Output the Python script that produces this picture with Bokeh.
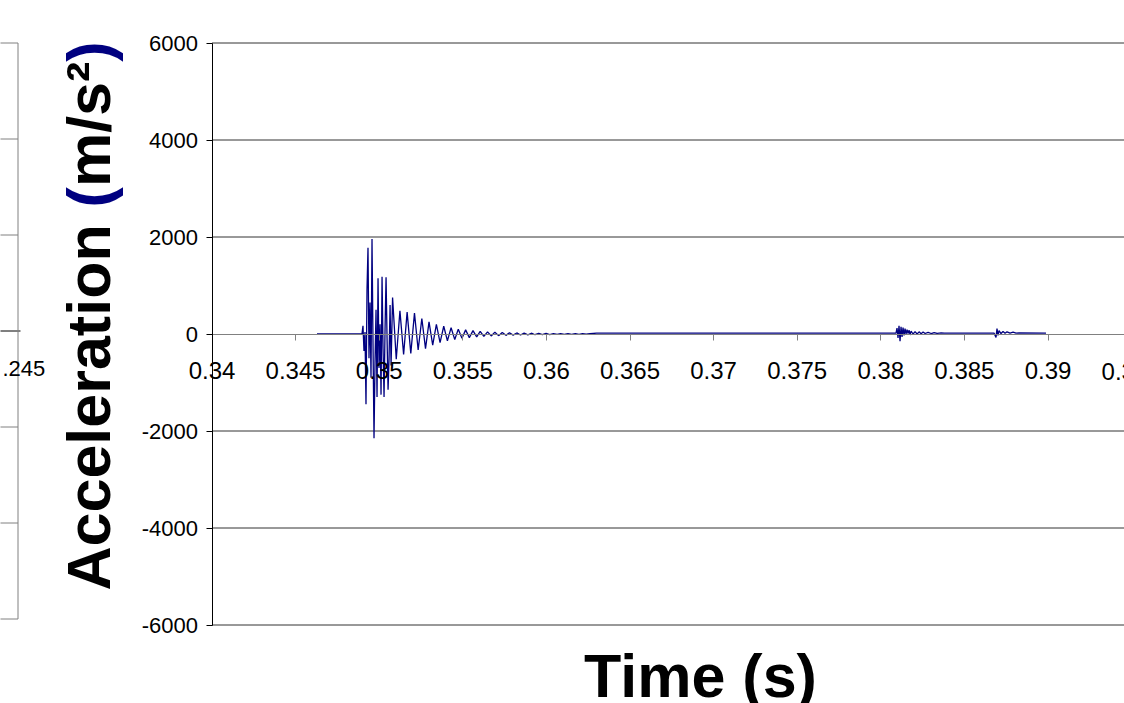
from bokeh.plotting import figure
from bokeh.models import Range1d, FixedTicker, Label
from bokeh.embed import file_html
from bokeh.resources import INLINE

# ---------------- data ----------------
time_s = [
    0.34628, 0.34897, 0.34903, 0.34909, 0.34915, 0.34921, 0.34927, 0.34933, 0.34939, 0.34945,
    0.34951, 0.34957, 0.34963, 0.34969, 0.34975, 0.34981, 0.34987, 0.34993, 0.34999, 0.35005,
    0.35011, 0.35017, 0.35023, 0.35029, 0.35035, 0.35041, 0.35047, 0.35053, 0.35059, 0.35065,
    0.35071, 0.35080, 0.35102, 0.35124, 0.35146, 0.35167, 0.35189, 0.35211, 0.35233, 0.35255,
    0.35277, 0.35298, 0.35320, 0.35342, 0.35364, 0.35386, 0.35408, 0.35430, 0.35452, 0.35473,
    0.35495, 0.35517, 0.35539, 0.35561, 0.35583, 0.35604, 0.35626, 0.35648, 0.35670, 0.35692,
    0.35714, 0.35736, 0.35758, 0.35779, 0.35801, 0.35823, 0.35845, 0.35867, 0.35889, 0.35910,
    0.35932, 0.35954, 0.35976, 0.35998, 0.36020, 0.36042, 0.36064, 0.36085, 0.36107, 0.36129,
    0.36151, 0.36173, 0.36195, 0.36216, 0.36238, 0.36260, 0.36300,
    0.38091, 0.38097, 0.38103, 0.38109, 0.38115, 0.38121, 0.38127, 0.38133, 0.38139, 0.38145,
    0.38151, 0.38157, 0.38163, 0.38169, 0.38175, 0.38181, 0.38193, 0.38205, 0.38217, 0.38229,
    0.38241, 0.38253, 0.38265, 0.38283, 0.38301, 0.38319, 0.38337, 0.38361, 0.38380,
    0.38677, 0.38689, 0.38695, 0.38701, 0.38707, 0.38719, 0.38731, 0.38743, 0.38755, 0.38773,
    0.38791, 0.38809, 0.38827, 0.38988,
]
accel = [
    0, 0, 170, -350, 40, -1450, 900, 1780, -500, 650,
    -900, 1960, -200, -2150, -600, 500, -1300, 1150, -700, 200,
    -1250, 1180, -300, -1300, 100, 1170, -100, -1150, -500, 600,
    -650, 750, -520, 480, -420, 450, -400, 430, -330, 320,
    -300, 250, -230, 200, -180, 160, -140, 130, -115, 100,
    -90, 85, -75, 70, -60, 55, -50, 45, -40, 38,
    -34, 32, -28, 26, -24, 22, -20, 19, -17, 16,
    -15, 14, -13, 12, -11, 10, -9, 9, -8, 8,
    -7, 7, -6, 6, -5, 5, 20,
    20, 120, -80, 170, -150, 150, -60, 130, -30, 110,
    0, 90, 10, 80, -20, 60, 0, 50, 0, 45,
    5, 40, 10, 35, 10, 30, 15, 25, 20,
    20, -70, 110, -30, 70, 10, 50, 15, 45, 20,
    40, 20, 25, 20,
]

x_ticks = [0.34, 0.345, 0.35, 0.355, 0.36, 0.365, 0.37, 0.375, 0.38, 0.385, 0.39]
x_tick_labels = ["0.34", "0.345", "0.35", "0.355", "0.36", "0.365", "0.37", "0.375", "0.38", "0.385", "0.39"]
x_next_tick = 0.395
x_next_label = "0.395"
y_ticks = [-6000, -4000, -2000, 0, 2000, 4000, 6000]
y_tick_labels = ["-6000", "-4000", "-2000", "0", "2000", "4000", "6000"]
x_title = "Time (s)"
y_title_parts = ["Acceleration ", "(", "m/s\u00b2", ")"]
remnant_label = ".245"

# ---------------- geometry (page pixels -> data) ----------------
W, H = 1124, 703
FONT = "Liberation Sans"
NAVY = "#000080"
GRID = "#333333"
X0 = x_ticks[0]
AXIS_PX_X = 211.5            # page x of the value axis
X_PX_PER_UNIT = 16720.0
ZERO_PX_Y = 333.5            # page y of acceleration 0
Y_PX_PER_UNIT = 97.0 / 2000.0


def dx(page_x):
    return X0 + (page_x - AXIS_PX_X) / X_PX_PER_UNIT


def dy(page_y):
    return (ZERO_PX_Y - page_y) / Y_PX_PER_UNIT


p = figure(width=W, height=H, x_range=Range1d(dx(0), dx(W)), y_range=Range1d(dy(H), dy(0)),
           toolbar_location=None, output_backend="svg",
           min_border_left=0, min_border_right=0, min_border_top=0, min_border_bottom=0)
p.outline_line_color = None
p.background_fill_color = "white"
p.border_fill_color = "white"
p.xgrid.visible = False
p.ygrid.visible = False

# horizontal gridlines of the value axis (drawn from the tick values)
grid_vals = [v for v in y_ticks if v != 0]
p.segment(x0=[X0] * len(grid_vals), x1=[x_next_tick] * len(grid_vals),
          y0=grid_vals, y1=grid_vals, line_color=GRID, line_width=1)

# data series
p.line(time_s, accel, line_color=NAVY, line_width=1.3)

# time axis crossing at 0
xa = p.xaxis[0]
xa.fixed_location = 0
xa.bounds = (X0, x_next_tick)
xa.ticker = FixedTicker(ticks=x_ticks)
xa.major_label_overrides = dict(zip(x_ticks, x_tick_labels))
xa.axis_line_color = "#808080"
xa.major_tick_line_color = "#808080"
xa.major_tick_out = 6
xa.major_tick_in = 0
xa.minor_tick_out = 0
xa.minor_tick_in = 0
xa.major_label_text_font = FONT
xa.major_label_text_font_size = "24px"
xa.major_label_text_color = "black"
xa.major_label_standoff = 22

# value axis
ya = p.yaxis[0]
ya.fixed_location = X0
ya.bounds = (y_ticks[0], y_ticks[-1])
ya.ticker = FixedTicker(ticks=y_ticks)
ya.major_label_overrides = dict(zip(y_ticks, y_tick_labels))
ya.axis_line_color = "black"
ya.major_tick_line_color = "black"
ya.major_tick_out = 6
ya.major_tick_in = 0
ya.minor_tick_out = 0
ya.minor_tick_in = 0
ya.major_label_text_font = FONT
ya.major_label_text_font_size = "22px"
ya.major_label_text_color = "black"
ya.major_label_standoff = 8

# next tick label, cut off by the right edge like the reference
p.add_layout(Label(x=x_next_tick, y=dy(371), text=x_next_label, text_font=FONT,
                   text_font_size="24px", text_align="center", text_baseline="middle",
                   text_color="black"))

# x title
p.add_layout(Label(x=dx(700), y=dy(675), text=x_title, text_font=FONT,
                   text_font_size="61px", text_font_style="bold", text_align="center",
                   text_baseline="alphabetic", text_color="black"))

# y title, pieces placed along the rotated baseline (Liberation Sans Bold advances)
FS = 61
advances = [6280, 333, 2056, 333]
colors = ["black", NAVY, "black", NAVY]
pos = 590.0
for txt, adv, col in zip(y_title_parts, advances, colors):
    p.add_layout(Label(x=dx(88), y=dy(pos), text=txt, angle=90, angle_units="deg",
                       text_font=FONT, text_font_size=f"{FS}px", text_font_style="bold",
                       text_align="left", text_baseline="alphabetic", text_color=col))
    pos -= adv * FS / 1000.0

# ---------------- remnant of the neighbouring chart at the left edge ----------------
REM_ZERO = 330.5
REM_PX = 96.0 / 2000.0
rem_y = [dy(REM_ZERO - v * REM_PX) for v in y_ticks]
rem_grid = [v for v, t in zip(rem_y, y_ticks) if t != 0]
p.segment(x0=[dx(-1)] * len(rem_grid), x1=[dx(17.5)] * len(rem_grid),
          y0=rem_grid, y1=rem_grid, line_color="#808080", line_width=1)
p.segment(x0=[dx(-1)], x1=[dx(20)], y0=[dy(REM_ZERO)], y1=[dy(REM_ZERO)],
          line_color="black", line_width=1)
p.segment(x0=[dx(17.5)], x1=[dx(17.5)], y0=[rem_y[0]], y1=[rem_y[-1]],
          line_color="#808080", line_width=1)
p.add_layout(Label(x=dx(2), y=dy(368), text=remnant_label, text_font=FONT,
                   text_font_size="22px", text_align="left", text_baseline="middle",
                   text_color="black"))

open("out.html", "w").write(file_html(p, INLINE))
